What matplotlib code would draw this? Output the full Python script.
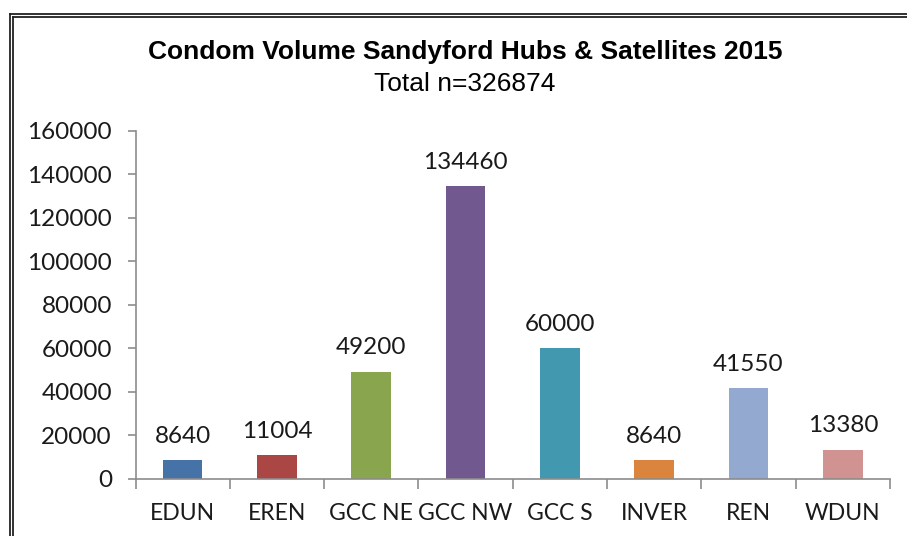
import matplotlib
matplotlib.use("Agg")
import matplotlib.pyplot as plt
from matplotlib.lines import Line2D

categories = ["EDUN", "EREN", "GCC NE", "GCC NW", "GCC S", "INVER", "REN", "WDUN"]
values = [8640, 11004, 49200, 134460, 60000, 8640, 41550, 13380]
colors = ["#4572A7", "#AA4643", "#89A54E", "#71588F", "#4198AF", "#DB843D", "#93A9CF", "#D19392"]
yticks = [0, 20000, 40000, 60000, 80000, 100000, 120000, 140000, 160000]
title = "Condom Volume Sandyford Hubs & Satellites 2015"
subtitle = "Total n=326874"

W, H = 907, 536
fig = plt.figure(figsize=(W / 100, H / 100), dpi=100)
fig.patch.set_facecolor("white")

ax = fig.add_axes([135.5 / W, (H - 478.7) / H, (890 - 135.5) / W, (478.7 - 130.7) / H])
x = list(range(len(categories)))
ax.bar(x, values, width=0.42, color=colors, zorder=2)
ax.set_xlim(-0.5, len(categories) - 0.5)
ax.set_ylim(0, 160000)
ax.set_yticks(yticks)
ax.set_yticklabels([str(v) for v in yticks])

ax.set_xticks([i - 0.5 for i in range(len(categories) + 1)], minor=False)
ax.set_xticklabels([""] * (len(categories) + 1))
ax.set_xticks(x, minor=True)
ax.set_xticklabels(categories, minor=True)

axis_col = "#8C8C8C"
for s in ["top", "right"]:
    ax.spines[s].set_visible(False)
for s in ["left", "bottom"]:
    ax.spines[s].set_color(axis_col)
    ax.spines[s].set_linewidth(1.2)

lab_font = "Lato"
num_size = 17.5
ax.tick_params(axis="y", direction="out", length=6, width=1.2, color=axis_col,
               labelsize=num_size, pad=11, labelcolor="#1a1a1a")
ax.tick_params(axis="x", which="major", direction="out", length=7.5, width=1.2, color=axis_col)
ax.tick_params(axis="x", which="minor", length=0, labelsize=16.5, pad=17.5, labelcolor="#1a1a1a")
for lbl in ax.get_yticklabels() + ax.get_xticklabels(minor=True):
    lbl.set_fontfamily(lab_font)

for xi, v in zip(x, values):
    ax.annotate(str(v), (xi, v), xytext=(0, 9.5), textcoords="offset points",
                ha="center", va="bottom", fontsize=num_size, fontfamily=lab_font, color="#1a1a1a")

fig.text(465 / W, 1 - 52 / H, title, ha="center", va="center", fontsize=19,
         fontweight="bold", fontfamily="Liberation Sans", color="black")
fig.text(465 / W, 1 - 84 / H, subtitle, ha="center", va="center", fontsize=19,
         fontfamily="Liberation Sans", color="black")

# frame border (double line)
for off in (0.0, 3.0):
    fig.add_artist(Line2D([(10 + off) / W, 1.0], [1 - (13.8 + off) / H, 1 - (13.8 + off) / H],
                          transform=fig.transFigure, color="#222222", linewidth=1.3))
    fig.add_artist(Line2D([(10 + off) / W, (10 + off) / W], [1 - (13.8 + off) / H, 0.0],
                          transform=fig.transFigure, color="#222222", linewidth=1.3))

fig.savefig("out.png", dpi=100)
